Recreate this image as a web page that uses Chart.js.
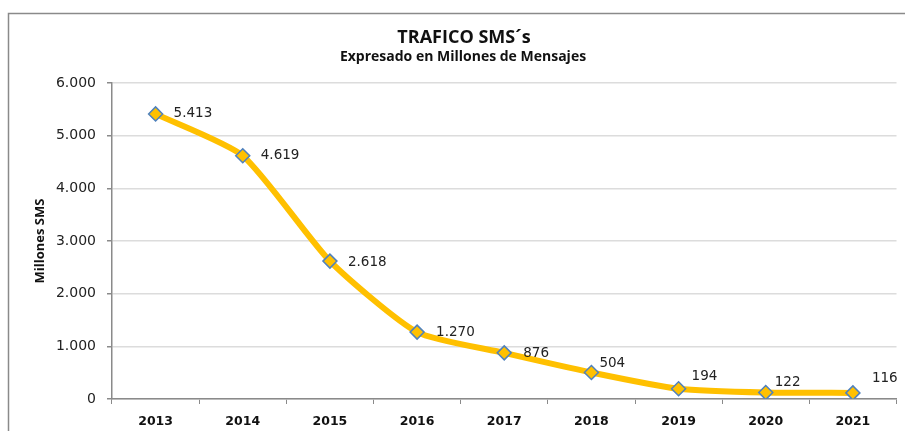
<!DOCTYPE html>
<html>
<head>
<meta charset="utf-8">
<script src="https://cdn.jsdelivr.net/npm/chart.js@4"></script>
<style>
  html, body { margin: 0; padding: 0; background: #fff; }
  #wrap { width: 905px; height: 431px; position: relative; }
</style>
</head>
<body>
<div id="wrap"><canvas id="chart" width="905" height="431"></canvas></div>
<script>
// data
const years = ["2013", "2014", "2015", "2016", "2017", "2018", "2019", "2020", "2021"];
const smsTraffic = [5413, 4619, 2618, 1270, 876, 504, 194, 122, 116];
const yTicks = [0, 1000, 2000, 3000, 4000, 5000, 6000];

const chartTitle = "TRAFICO SMS´s";
const chartSubtitle = "Expresado en Millones de Mensajes";
const yTitle = "Millones SMS";

// label nudges (px) so the value labels sit like in the original
const labelDx = [18, 18, 18, 19, 19, 8, 13, 9, 19];
const labelDy = [0, 0, 1, 0, 1, -9, -12, -10, -14];

function fmt(v) {
  return String(v).replace(/\B(?=(\d{3})+(?!\d))/g, ".");
}

const framePlugin = {
  id: "frame",
  beforeDraw(chart) {
    const c = chart.ctx;
    c.save();
    c.fillStyle = "#fff";
    c.fillRect(0, 0, chart.width, chart.height);
    c.strokeStyle = "#8a8a8a";
    c.lineWidth = 1.5;
    c.beginPath();
    c.moveTo(8.5, chart.height);
    c.lineTo(8.5, 13.5);
    c.lineTo(chart.width, 13.5);
    c.stroke();

    // titles
    c.fillStyle = "#111";
    c.textAlign = "center";
    c.textBaseline = "middle";
    c.font = "bold 18px 'Open Sans', 'DejaVu Sans', sans-serif";
    c.fillText(chartTitle, 464, 38);
    c.font = "bold 14px 'Open Sans', 'DejaVu Sans', sans-serif";
    c.fillText(chartSubtitle, 463, 57);

    // y axis title
    c.save();
    c.translate(40, 241);
    c.rotate(-Math.PI / 2);
    c.font = "bold 13px 'Open Sans', 'DejaVu Sans', sans-serif";
    c.fillText(yTitle, 0, 0);
    c.restore();
    c.restore();
  }
};

const valueLabels = {
  id: "valueLabels",
  afterDatasetsDraw(chart) {
    const c = chart.ctx;
    const meta = chart.getDatasetMeta(0);
    c.save();
    c.font = "13.5px 'DejaVu Sans', sans-serif";
    c.fillStyle = "#222";
    c.textAlign = "left";
    c.textBaseline = "middle";
    meta.data.forEach((pt, i) => {
      c.fillText(fmt(smsTraffic[i]), pt.x + labelDx[i], pt.y + labelDy[i]);
    });
    c.restore();
  }
};

const ctx = document.getElementById("chart").getContext("2d");

new Chart(ctx, {
  type: "line",
  data: {
    labels: years,
    datasets: [{
      label: yTitle,
      data: smsTraffic,
      borderColor: "#FFC000",
      borderWidth: 6,
      tension: 0.2,
      pointStyle: "rectRot",
      pointRadius: 7,
      pointHoverRadius: 7,
      pointBackgroundColor: "#FFC000",
      pointBorderColor: "#4F81BD",
      pointBorderWidth: 1.5
    }]
  },
  options: {
    responsive: false,
    animation: false,
    events: [],
    layout: { padding: { top: 83, right: 4, left: 0, bottom: 0 } },
    plugins: {
      legend: { display: false },
      title: { display: false },
      tooltip: { enabled: false }
    },
    scales: {
      x: {
        offset: true,
        grid: {
          offset: true,
          drawOnChartArea: false,
          tickLength: 5,
          color: "#8a8a8a"
        },
        border: { color: "#8a8a8a", width: 1.5 },
        ticks: {
          color: "#111",
          padding: 10,
          font: { family: "'DejaVu Sans', sans-serif", size: 12.5, weight: "bold" }
        },
        afterFit(s) { s.height = 32; }
      },
      y: {
        min: 0,
        max: 6000,
        afterBuildTicks(s) { s.ticks = yTicks.map(v => ({ value: v })); },
        grid: {
          color: "#dcdcdc",
          lineWidth: 1.5,
          tickLength: 5,
          tickColor: "#8a8a8a"
        },
        border: { color: "#8a8a8a", width: 1.5 },
        ticks: {
          color: "#222",
          padding: 11,
          font: { family: "'DejaVu Sans', sans-serif", size: 14 },
          callback: v => fmt(v)
        },
        afterFit(s) { s.width = 112; }
      }
    }
  },
  plugins: [framePlugin, valueLabels]
});
</script>
</body>
</html>
